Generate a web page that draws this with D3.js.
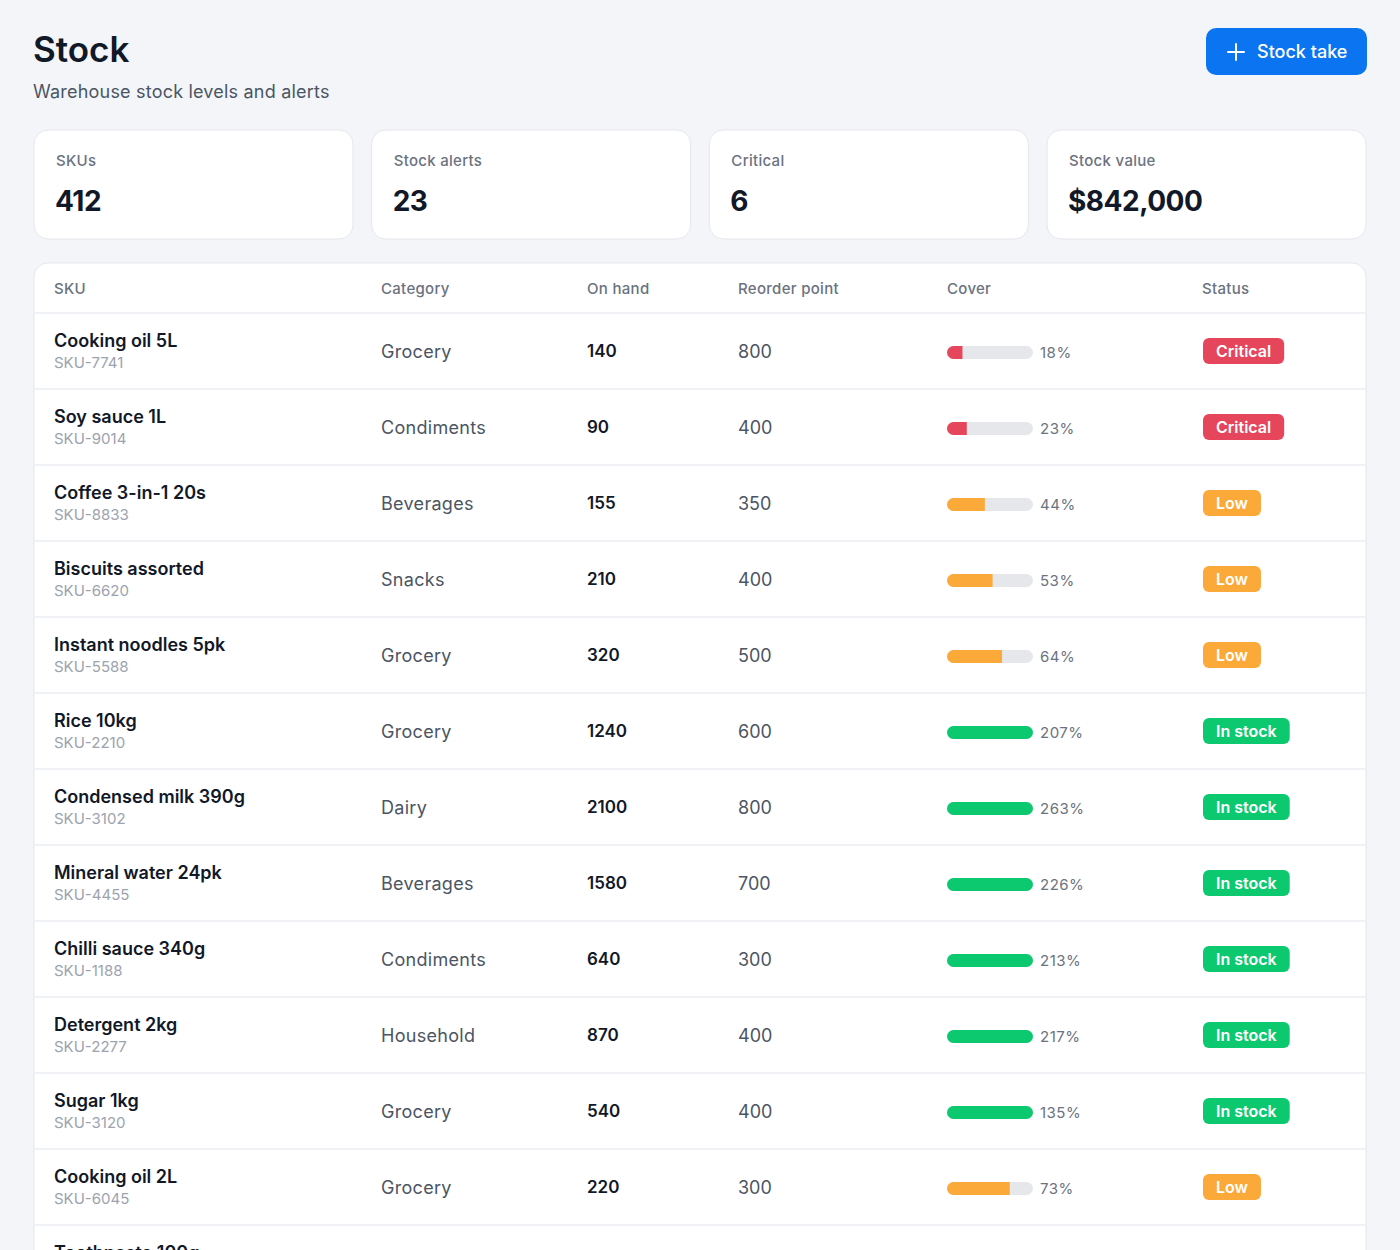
<!DOCTYPE html>
<html>
<head>
<meta charset="utf-8">
<script src="https://cdn.jsdelivr.net/npm/d3@7"></script>
<style>
  body { margin: 0; background: #f3f5f9; font-family: Inter, "Noto Sans", sans-serif; overflow: hidden; }
</style>
</head>
<body>
<div id="chart"></div>
<script>
// Data
const kpiLabels = ["SKUs", "Stock alerts", "Critical", "Stock value"];
const kpiValues = ["412", "23", "6", "$842,000"];
const columns = ["SKU", "Category", "On hand", "Reorder point", "Cover", "Status"];
const names = ["Cooking oil 5L","Soy sauce 1L","Coffee 3-in-1 20s","Biscuits assorted","Instant noodles 5pk","Rice 10kg","Condensed milk 390g","Mineral water 24pk","Chilli sauce 340g","Detergent 2kg","Sugar 1kg","Cooking oil 2L","Toothpaste 100g"];
const codes = ["SKU-7741","SKU-9014","SKU-8833","SKU-6620","SKU-5588","SKU-2210","SKU-3102","SKU-4455","SKU-1188","SKU-2277","SKU-3120","SKU-6045","SKU-5012"];
const categories = ["Grocery","Condiments","Beverages","Snacks","Grocery","Grocery","Dairy","Beverages","Condiments","Household","Grocery","Grocery","Household"];
const onHand = [140, 90, 155, 210, 320, 1240, 2100, 1580, 640, 870, 540, 220, 300];
const reorder = [800, 400, 350, 400, 500, 600, 800, 700, 300, 400, 400, 300, 300];
const cover = [18, 23, 44, 53, 64, 207, 263, 226, 213, 217, 135, 73, 100];
const status = ["Critical","Critical","Low","Low","Low","In stock","In stock","In stock","In stock","In stock","In stock","Low","In stock"];

const statusColor = { "Critical": "#e5465c", "Low": "#fbaa3a", "In stock": "#0cc86e" };

const W = 1400, H = 1250;
const svg = d3.select("#chart").append("svg").attr("width", W).attr("height", H);
const defs = svg.append("defs");

// Header
svg.append("text").attr("x", 33).attr("y", 62).text("Stock")
  .attr("font-size", 35).attr("font-weight", 600).attr("fill", "#111827");
svg.append("text").attr("x", 33).attr("y", 98).text("Warehouse stock levels and alerts")
  .attr("font-size", 18).attr("fill", "#4b5563").attr("letter-spacing", 0.2);

const btn = svg.append("g").attr("transform", "translate(1206,28)");
btn.append("rect").attr("width", 161).attr("height", 47).attr("rx", 10).attr("fill", "#0b74f0");
btn.append("path").attr("d", "M30 16v16M22 24h16").attr("stroke", "#fff").attr("stroke-width", 2).attr("stroke-linecap", "round");
btn.append("text").attr("x", 51).attr("y", 30).text("Stock take")
  .attr("font-size", 18).attr("font-weight", 500).attr("fill", "#fff");

// KPI cards
const xCard = d3.scaleBand().domain(kpiLabels).range([34, 1366]).paddingInner(0.0553).paddingOuter(0);
const cards = svg.selectAll(".card").data(kpiLabels).join("g")
  .attr("transform", d => `translate(${xCard(d)},130)`);
cards.append("rect").attr("width", xCard.bandwidth()).attr("height", 109).attr("rx", 14)
  .attr("fill", "#fff").attr("stroke", "#e5e7eb");
cards.append("text").attr("x", 22).attr("y", 36).text(d => d)
  .attr("font-size", 15).attr("font-weight", 500).attr("fill", "#6b7280").attr("letter-spacing", 0.3);
cards.append("text").attr("x", 21).attr("y", 81).text((d, i) => kpiValues[i])
  .attr("font-size", 28).attr("font-weight", 700).attr("fill", "#111827").attr("letter-spacing", -0.5);

// Table
const tableTop = 263, headH = 50, rowH = 76;
const colX = [54, 381, 587, 738, 947, 1202];
svg.append("rect").attr("x", 34).attr("y", tableTop).attr("width", 1332)
  .attr("height", headH + rowH * names.length + 20).attr("rx", 14)
  .attr("fill", "#fff").attr("stroke", "#e5e7eb");

svg.selectAll(".colhead").data(columns).join("text")
  .attr("x", (d, i) => colX[i]).attr("y", tableTop + 31).text(d => d)
  .attr("font-size", 15).attr("font-weight", 500).attr("fill", "#6b7280").attr("letter-spacing", 0.3);

const y = d3.scaleBand().domain(d3.range(names.length))
  .range([tableTop + headH, tableTop + headH + rowH * names.length]);
const xBar = d3.scaleLinear().domain([0, 100]).range([0, 86]).clamp(true);

// clip for bar track shape
defs.append("clipPath").attr("id", "track")
  .append("rect").attr("x", colX[4]).attr("y", 33).attr("width", xBar(100)).attr("height", 13).attr("rx", 6.5);

const rows = svg.selectAll(".row").data(d3.range(names.length)).join("g")
  .attr("transform", i => `translate(0,${y(i)})`);
rows.append("line").attr("x1", 34).attr("x2", 1366)
  .attr("stroke", "#eceef2").attr("stroke-width", 1.5);
rows.append("text").attr("x", colX[0]).attr("y", 34).text(i => names[i])
  .attr("font-size", 18).attr("font-weight", 600).attr("fill", "#111827");
rows.append("text").attr("x", colX[0]).attr("y", 55).text(i => codes[i])
  .attr("font-size", 15).attr("fill", "#9ca3af");
rows.append("text").attr("x", colX[1]).attr("y", 45).text(i => categories[i])
  .attr("font-size", 18).attr("fill", "#4b5563").attr("letter-spacing", 0.3);
rows.append("text").attr("x", colX[2]).attr("y", 44).text(i => onHand[i])
  .attr("font-size", 17).attr("font-weight", 600).attr("fill", "#111827");
rows.append("text").attr("x", colX[3]).attr("y", 45).text(i => reorder[i])
  .attr("font-size", 18).attr("fill", "#4b5563");
const bar = rows.append("g").attr("clip-path", "url(#track)");
bar.append("rect").attr("x", colX[4]).attr("y", 33).attr("width", xBar(100)).attr("height", 13)
  .attr("fill", "#e5e7eb");
bar.append("rect").attr("x", colX[4]).attr("y", 33).attr("width", i => xBar(cover[i])).attr("height", 13)
  .attr("fill", i => statusColor[status[i]]);
rows.append("text").attr("x", colX[4] + 93).attr("y", 45).text(i => cover[i] + "%")
  .attr("font-size", 15).attr("fill", "#6b7280").attr("letter-spacing", 0.5);

const badges = rows.append("g").attr("transform", `translate(${colX[5] + 1},25)`);
badges.append("text").attr("x", 13).attr("y", 19).text(i => status[i])
  .attr("font-size", 16).attr("font-weight", 600).attr("fill", "#fff");
badges.insert("rect", "text").attr("height", 26).attr("rx", 6)
  .attr("width", function() { return this.parentNode.querySelector("text").getComputedTextLength() + 26; })
  .attr("fill", i => statusColor[status[i]]);
</script>
</body>
</html>
